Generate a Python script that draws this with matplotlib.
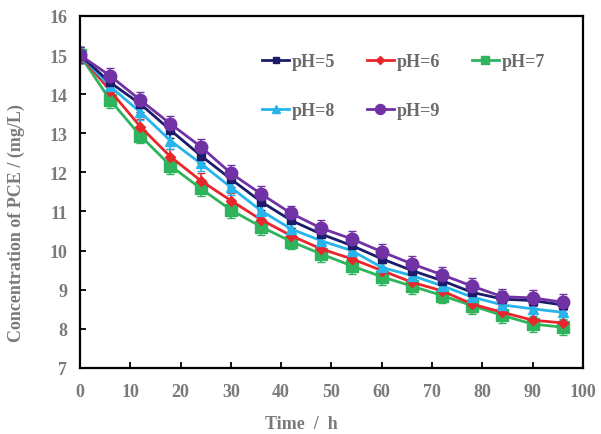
import numpy as np
import matplotlib.pyplot as plt
from matplotlib.lines import Line2D

plt.rcParams['font.family'] = ['Liberation Serif', 'DejaVu Serif']
plt.rcParams['font.weight'] = 'bold'

# time points (h)
time = [0, 6, 12, 18, 24, 30, 36, 42, 48, 54, 60, 66, 72, 78, 84, 90, 96]

# PCE concentration (mg/L) for each pH
ph5 = [15.0, 14.30, 13.75, 13.08, 12.43, 11.83, 11.25, 10.77, 10.42, 10.13, 9.79, 9.49, 9.23, 8.93, 8.76, 8.72, 8.61]
ph6 = [15.0, 14.09, 13.17, 12.40, 11.79, 11.28, 10.79, 10.38, 10.04, 9.79, 9.49, 9.19, 8.97, 8.63, 8.42, 8.22, 8.15]
ph7 = [15.0, 13.85, 12.94, 12.17, 11.59, 11.04, 10.61, 10.23, 9.91, 9.61, 9.33, 9.09, 8.85, 8.59, 8.34, 8.12, 8.04]
ph8 = [15.0, 14.20, 13.54, 12.81, 12.23, 11.62, 11.02, 10.55, 10.25, 10.00, 9.57, 9.36, 9.10, 8.81, 8.61, 8.51, 8.42]
ph9 = [15.0, 14.47, 13.85, 13.24, 12.66, 11.98, 11.45, 10.95, 10.57, 10.30, 9.97, 9.66, 9.38, 9.09, 8.82, 8.79, 8.68]
err = 0.2

labels = ['pH=5', 'pH=6', 'pH=7', 'pH=8', 'pH=9']
series = [ph5, ph6, ph7, ph8, ph9]
colors = ['#1c1c6b', '#e8262b', '#2fb35c', '#26b5ea', '#7132a5']
markers = ['s', 'D', 's', '^', 'o']
msizes = [6, 5, 8, 7, 9]

fig = plt.figure(figsize=(6.01, 4.35), dpi=100)
ax = fig.add_axes([0.133, 0.152, 0.837, 0.809])

# draw green first so purple ends on top
order = [2, 1, 3, 0, 4]
for i in order:
    ax.errorbar(time, series[i], yerr=err, color=colors[i], marker=markers[i],
                markersize=msizes[i], linewidth=2, elinewidth=1.2, capsize=3)

ax.set_xlim(0, 100)
ax.set_ylim(7, 16)
ax.set_xticks(np.arange(0, 101, 10))
ax.set_yticks(np.arange(7, 17, 1))
ax.tick_params(direction='in', length=4, width=1.3, labelsize=13,
               labelcolor='#7a7a7a')
ax.tick_params(axis='x', pad=11)
ax.tick_params(axis='y', pad=9)
for s in ax.spines.values():
    s.set_linewidth(1.6)
    s.set_color('black')

ax.set_xlabel('Time  /  h', fontsize=13, color='#7a7a7a', fontweight='bold')
ax.set_ylabel('Concentration of PCE / (mg/L)', fontsize=13, color='#7a7a7a', fontweight='bold')
ax.xaxis.set_label_coords(0.44, -0.135)
ax.yaxis.set_label_coords(-0.11, 0.415)

# legend proxies, ordered so rows read pH=5,6,7 / pH=8,9
proxies = [Line2D([], [], color=colors[i], marker=markers[i], markersize=msizes[i] * 0.8,
                  linewidth=2) for i in range(5)]
leg_order = [0, 3, 1, 4, 2]
leg = ax.legend([proxies[i] for i in leg_order], [labels[i] for i in leg_order],
                ncol=3, frameon=False, loc='upper left', bbox_to_anchor=(0.33, 0.94),
                fontsize=13, handlelength=1.5, handletextpad=0.15, columnspacing=1.75,
                labelspacing=1.75)
for t in leg.get_texts():
    t.set_color('#6a6a6a')

fig.savefig('out.png', dpi=100)
